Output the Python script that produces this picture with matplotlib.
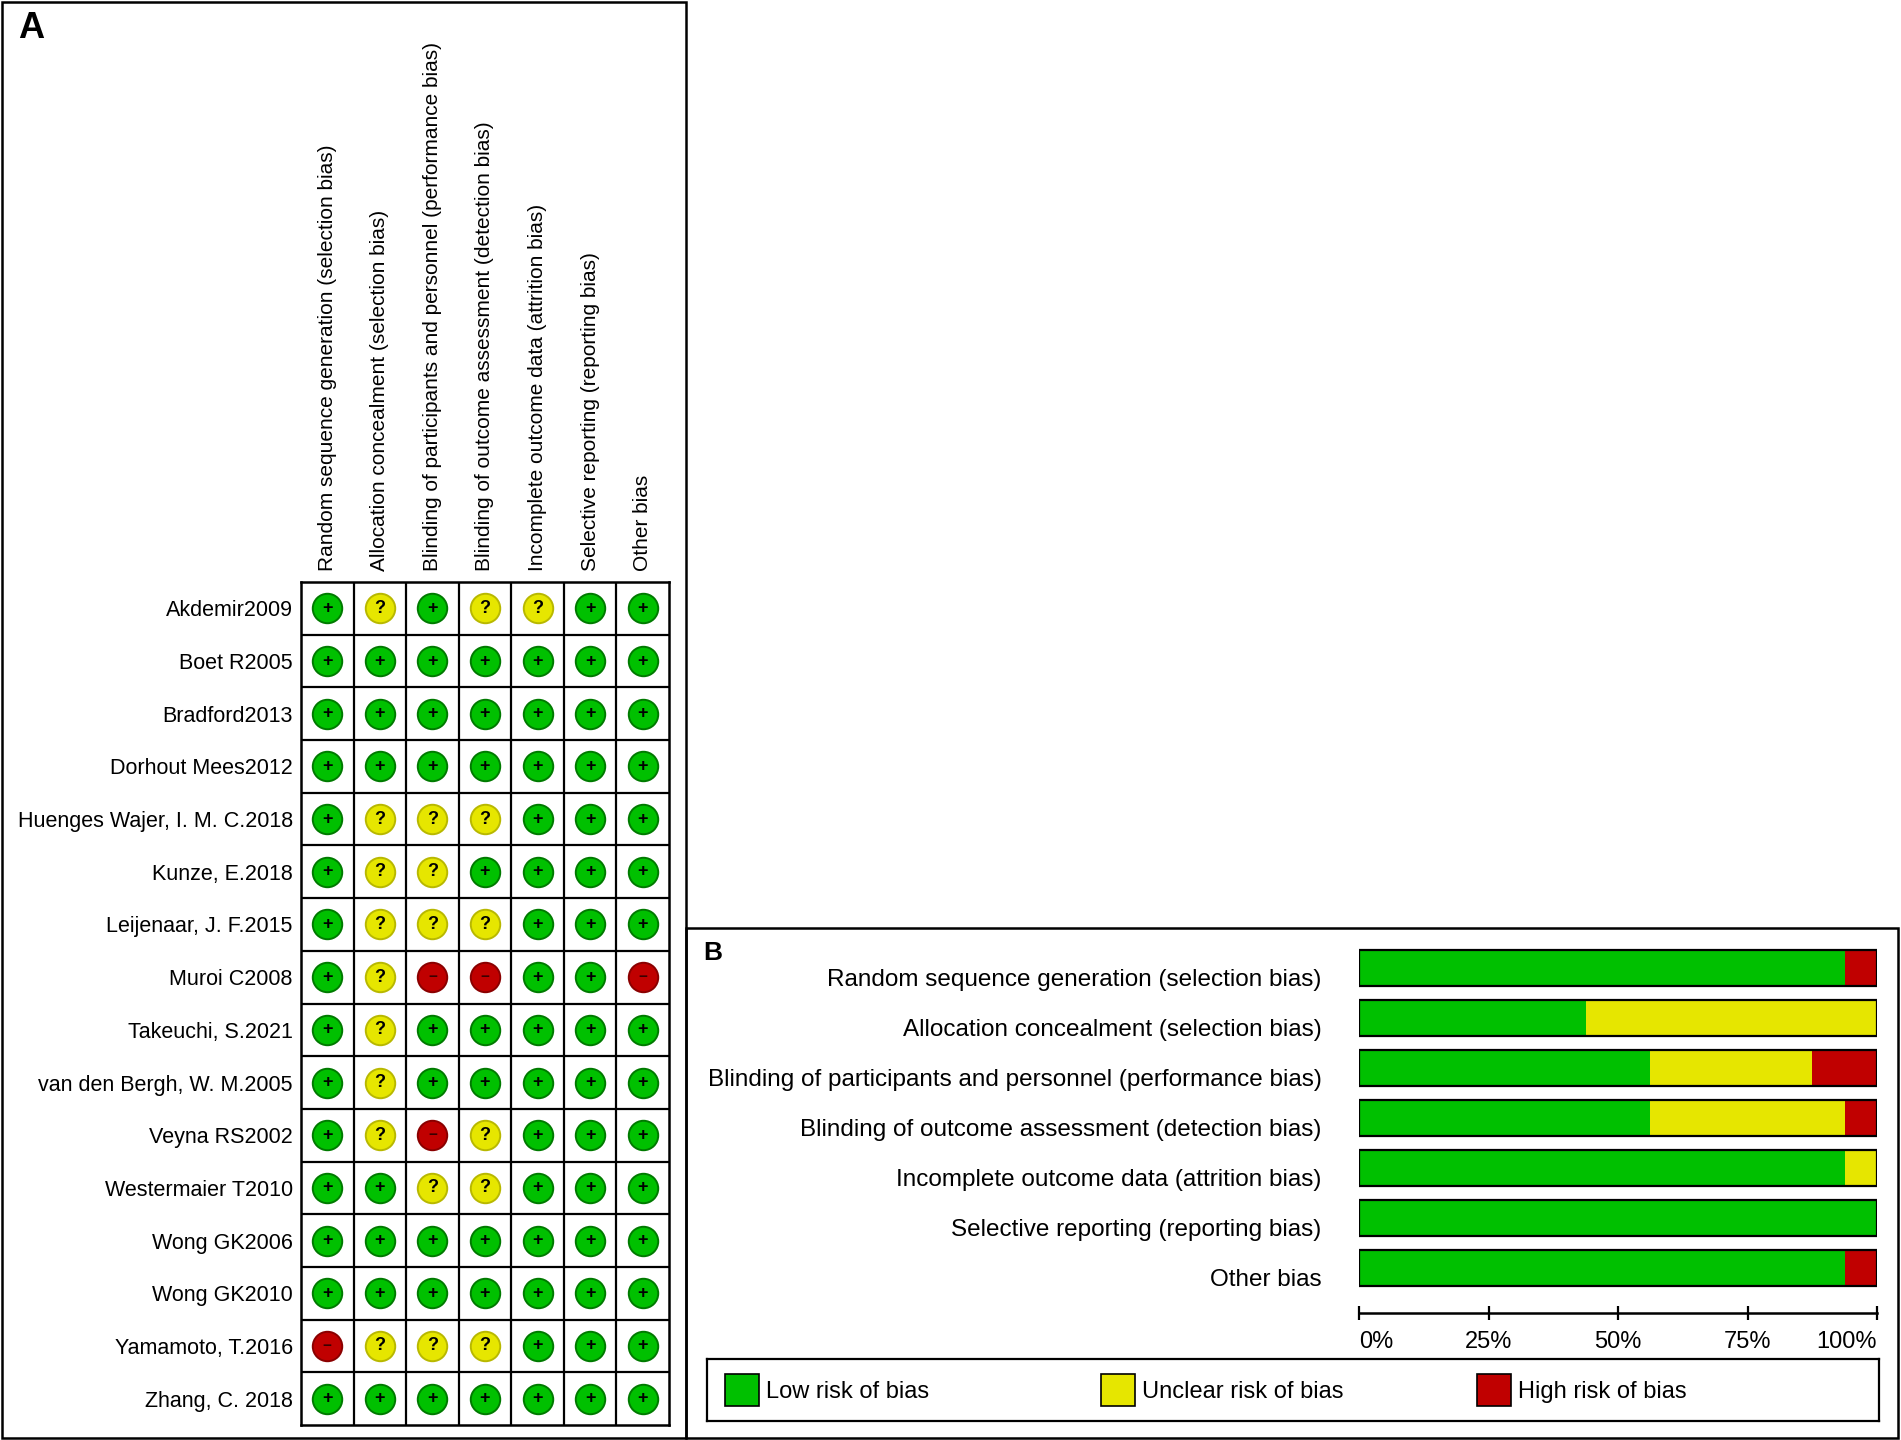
import matplotlib
matplotlib.use("Agg")
import matplotlib.pyplot as plt
import matplotlib.transforms as mtransforms
import numpy as np
from matplotlib.patches import Rectangle

plt.rcParams["font.family"] = ["Liberation Sans", "DejaVu Sans"]

W, H = 1901, 1440

studies = [
    "Akdemir2009", "Boet R2005", "Bradford2013", "Dorhout Mees2012",
    "Huenges Wajer, I. M. C.2018", "Kunze, E.2018", "Leijenaar, J. F.2015",
    "Muroi C2008", "Takeuchi, S.2021", "van den Bergh, W. M.2005",
    "Veyna RS2002", "Westermaier T2010", "Wong GK2006", "Wong GK2010",
    "Yamamoto, T.2016", "Zhang, C. 2018",
]

domains = [
    "Random sequence generation (selection bias)",
    "Allocation concealment (selection bias)",
    "Blinding of participants and personnel (performance bias)",
    "Blinding of outcome assessment (detection bias)",
    "Incomplete outcome data (attrition bias)",
    "Selective reporting (reporting bias)",
    "Other bias",
]

# one string per study, one character per domain: + low, ? unclear, - high
judgements = [
    "+?+??++",
    "+++++++",
    "+++++++",
    "+++++++",
    "+???+++",
    "+??++++",
    "+???+++",
    "+?--++-",
    "+?+++++",
    "+?+++++",
    "+?-?+++",
    "++??+++",
    "+++++++",
    "+++++++",
    "-???+++",
    "+++++++",
]

levels = ["+", "?", "-"]
level_names = ["Low risk of bias", "Unclear risk of bias", "High risk of bias"]
fill_colors = {"+": "#00C000", "?": "#E6E600", "-": "#C00000"}
edge_colors = {"+": "#007A00", "?": "#B8B800", "-": "#8A0000"}
sym_style = {"+": ("+", 13, "black"), "?": ("?", 13, "black"), "-": ("\u2212", 11, "#3a0000")}


def box(x0, y0, x1, y1):
    return [x0 / W, 1 - y1 / H, (x1 - x0) / W, (y1 - y0) / H]


fig = plt.figure(figsize=(W / 100, H / 100), dpi=100)

# Panel frames
for (x0, y0, x1, y1) in [(2, 2, 686, 1438), (686, 928, 1898, 1438)]:
    fig.patches.append(Rectangle((x0 / W, 1 - y1 / H), (x1 - x0) / W, (y1 - y0) / H,
                                 transform=fig.transFigure, fill=False,
                                 edgecolor="black", linewidth=1.8))
fig.text(18 / W, 1 - 11 / H, "A", fontsize=26, fontweight="bold", va="top")
fig.text(703 / W, 1 - 941 / H, "B", fontsize=19, fontweight="bold", va="top")

# Panel A: risk of bias summary grid
ax = fig.add_axes(box(301, 582, 669, 1425))
n_st, n_dom = len(studies), len(domains)
ax.set_xlim(0, n_dom)
ax.set_ylim(n_st, 0)
for i in range(1, n_dom):
    ax.axvline(i, color="black", linewidth=1.6)
for j in range(1, n_st):
    ax.axhline(j, color="black", linewidth=1.6)
for s in ax.spines.values():
    s.set_linewidth(1.8)

for lev in levels:
    xs, ys = [], []
    for r, row in enumerate(judgements):
        for c, code in enumerate(row):
            if code == lev:
                xs.append(c + 0.5)
                ys.append(r + 0.5)
    ax.scatter(xs, ys, s=450, color=fill_colors[lev], edgecolors=edge_colors[lev],
               linewidths=1.4, zorder=3)
    sym, fs, col = sym_style[lev]
    for x, y in zip(xs, ys):
        ax.text(x, y, sym, ha="center", va="center", fontsize=fs,
                fontweight="bold", color=col, zorder=4)

ax.xaxis.tick_top()
ax.set_xticks(np.arange(n_dom) + 0.5)
ax.set_xticklabels(domains, rotation=90, fontsize=15)
ax.set_yticks(np.arange(n_st) + 0.5)
ax.set_yticklabels(studies, fontsize=15.5)
ax.tick_params(axis="x", length=0, pad=8)
ax.tick_params(axis="y", length=0, pad=6)

# Panel B: risk of bias graph (percent of studies per judgement)
counts = {lev: np.array([sum(row[c] == lev for row in judgements) for c in range(n_dom)])
          for lev in levels}
pct = {lev: counts[lev] / n_st * 100 for lev in levels}

axb = fig.add_axes(box(1359, 942, 1877, 1313))
ypos = np.arange(n_dom)
left = np.zeros(n_dom)
for lev in levels:
    axb.barh(ypos, pct[lev], left=left, height=0.72, color=fill_colors[lev],
             edgecolor="none")
    left += pct[lev]
axb.barh(ypos, 100, height=0.72, fill=False, edgecolor="black", linewidth=1.6)
axb.set_xlim(0, 100)
axb.set_ylim(6.9, -0.51)
for side in ["top", "right", "left"]:
    axb.spines[side].set_visible(False)
axb.spines["bottom"].set_linewidth(1.8)
axb.set_xticks([0, 25, 50, 75, 100])
axb.set_xticklabels(["0%", "25%", "50%", "75%", "100%"], fontsize=17)
axb.get_xticklabels()[0].set_ha("left")
axb.get_xticklabels()[-1].set_ha("right")
axb.tick_params(axis="x", direction="inout", length=10, width=1.6, pad=8)
axb.set_yticks(ypos)
axb.set_yticklabels(domains, fontsize=17.5)
axb.tick_params(axis="y", length=0, pad=27)
shift = mtransforms.ScaledTranslation(0, -7 / 72, fig.dpi_scale_trans)
for lab in axb.get_yticklabels():
    lab.set_transform(lab.get_transform() + shift)

# Legend box
axl = fig.add_axes(box(707, 1359, 1879, 1421))
axl.set_xlim(707, 1879)
axl.set_ylim(1421, 1359)
axl.set_xticks([])
axl.set_yticks([])
for s in axl.spines.values():
    s.set_linewidth(1.6)
for k, (lev, name) in enumerate(zip(levels, level_names)):
    x0 = 725 + k * 376
    axl.add_patch(Rectangle((x0, 1374), 34, 32, facecolor=fill_colors[lev],
                            edgecolor="black", linewidth=1.2))
    axl.text(x0 + 41, 1392, name, fontsize=17, va="center", ha="left")

fig.savefig("out.png", dpi=100)
